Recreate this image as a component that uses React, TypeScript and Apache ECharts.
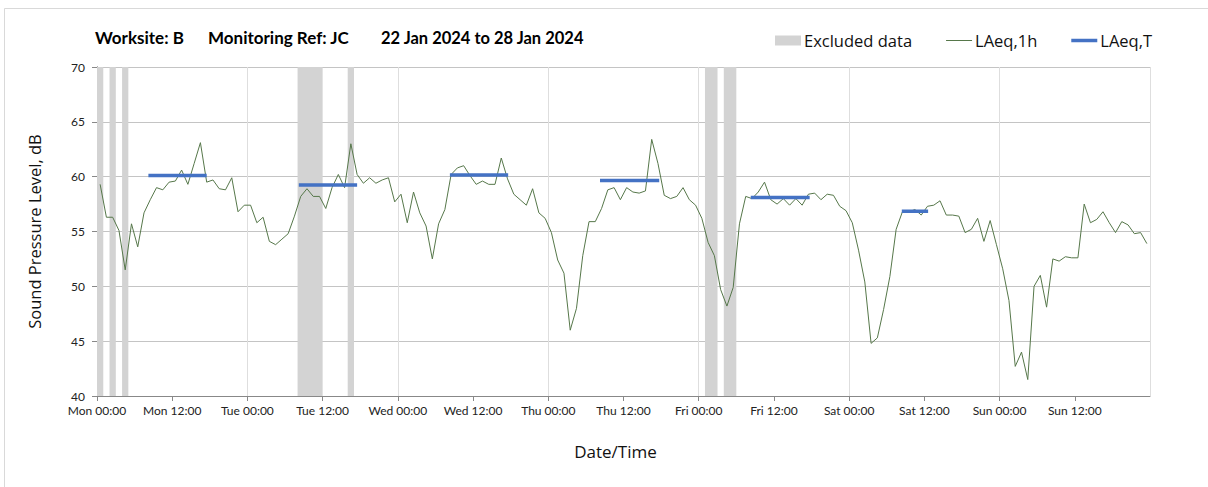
import React, { useEffect, useRef } from "react";
import * as echarts from "echarts";

const dayNames = ["Mon", "Tue", "Wed", "Thu", "Fri", "Sat", "Sun"];
const titleParts = ["Worksite: B", "Monitoring Ref: JC", "22 Jan 2024 to 28 Jan 2024"];

// hourly LAeq,1h values, Mon 00:00 .. Sun 23:00 (plotted at the middle of each hour)
const laeq1h = [
  59.3, 56.3, 56.3, 55.1, 51.5, 55.7, 53.6, 56.7, 57.9, 59.0, 58.8, 59.5,
  59.6, 60.6, 59.3, 61.2, 63.1, 59.5, 59.7, 58.9, 58.8, 59.9, 56.8, 57.4,
  57.4, 55.8, 56.3, 54.1, 53.8, 54.3, 54.8, 56.4, 58.2, 58.9, 58.2, 58.2,
  57.1, 59.0, 60.2, 59.0, 63.0, 60.2, 59.4, 59.9, 59.4, 59.7, 59.9, 57.7,
  58.4, 55.8, 58.6, 56.7, 55.5, 52.5, 55.7, 57.0, 60.2, 60.8, 61.0, 60.1,
  59.3, 59.6, 59.3, 59.3, 61.7, 59.8, 58.4, 57.9, 57.4, 58.9, 56.7, 56.2,
  54.9, 52.4, 51.2, 46.0, 48.0, 52.8, 55.9, 55.9, 57.1, 58.8, 59.0, 57.9,
  59.0, 58.6, 58.5, 58.7, 63.4, 61.2, 58.3, 58.0, 58.2, 59.0, 57.9, 57.4,
  56.2, 54.0, 52.8, 49.7, 48.2, 49.9, 55.7, 58.2, 58.0, 58.6, 59.5, 57.9,
  57.5, 58.0, 57.4, 58.0, 57.4, 58.4, 58.5, 57.9, 58.4, 58.3, 57.3, 56.9,
  55.8, 53.3, 50.4, 44.8, 45.3, 47.9, 50.9, 55.2, 56.8, 56.8, 57.0, 56.5,
  57.3, 57.4, 57.8, 56.5, 56.5, 56.4, 54.9, 55.2, 56.2, 54.1, 56.0, 53.8,
  51.6, 48.7, 42.7, 44.0, 41.5, 50.0, 51.0, 48.1, 52.5, 52.3, 52.7, 52.6,
  52.6, 57.5, 55.8, 56.1, 56.8, 55.8, 54.9, 55.9, 55.6, 54.8, 54.9, 53.9,
];

// LAeq,T periods (hours from Mon 00:00) and levels
const laeqTStart = [8.2, 32.2, 56.3, 80.25, 104.3, 128.4];
const laeqTEnd = [17.5, 41.5, 65.6, 89.7, 113.7, 132.6];
const laeqTLevel = [60.1, 59.25, 60.15, 59.65, 58.1, 56.85];

// excluded data periods (hours from Mon 00:00)
const excludedStart = [0, 2, 4, 32, 40, 97, 100];
const excludedEnd = [1, 3, 5, 36, 41, 99, 102];

const FONT = "Lato";
const UI_FONT = "Open Sans";

export default function App() {
  const ref = useRef<HTMLDivElement>(null);

  useEffect(() => {
    if (!ref.current) return;
    const chart = echarts.init(ref.current, undefined, { renderer: "svg" });

    const lineData = laeq1h.map((v, i) => [i + 0.5, v]);
    const tData: any[] = [];
    laeqTStart.forEach((s, k) => {
      tData.push([s, laeqTLevel[k]]);
      tData.push([laeqTEnd[k], laeqTLevel[k]]);
      if (k < laeqTStart.length - 1) tData.push([laeqTEnd[k] + 0.5, "-"]);
    });
    const areas = excludedStart.map((s, k) => [{ xAxis: s }, { xAxis: excludedEnd[k] }]);

    const titleX = [95, 208, 381];
    const titleSize = [17, 17, 16.5];

    chart.setOption({
      animation: false,
      textStyle: { fontFamily: FONT },
      title: titleParts.map((t, k) => ({
        text: t,
        left: titleX[k],
        top: 29,
        padding: 0,
        textStyle: { fontFamily: FONT, fontSize: titleSize[k], fontWeight: "bold", color: "#000" },
      })),
      legend: {
        left: 775,
        top: 32,
        padding: 0,
        itemWidth: 26,
        itemHeight: 10,
        itemGap: 34,
        textStyle: { fontFamily: UI_FONT, fontSize: 16.5, color: "#111", padding: [0, 0, 0, -2] },
        data: [
          { name: "Excluded data", icon: "rect", itemStyle: { color: "#d3d3d3" } },
          { name: "LAeq,1h", icon: "path://M0,0 H26 V1 H0 Z", itemStyle: { color: "#56774a" } },
          { name: "LAeq,T", icon: "path://M0,0 H26 V3.5 H0 Z", itemStyle: { color: "#4472c4" } },
        ],
      },
      graphic: [
        {
          type: "rect",
          shape: { x: 4.5, y: 8.5, width: 1240, height: 520 },
          style: { fill: "none", stroke: "#d9d9d9", lineWidth: 1 },
          silent: true,
        },
      ],
      grid: { left: 97, right: 58, top: 67, bottom: 91 },
      xAxis: [
        {
          type: "value",
          min: 0,
          max: 168,
          interval: 12,
          name: "Date/Time",
          nameLocation: "middle",
          nameGap: 47,
          nameTextStyle: { fontFamily: UI_FONT, fontSize: 17, color: "#111", padding: [0, 16, 0, 0] },
          axisLine: { show: true, lineStyle: { color: "#888" } },
          axisTick: { show: true, length: 5, lineStyle: { color: "#888" } },
          axisLabel: {
            fontFamily: FONT,
            fontSize: 12,
            color: "#222",
            margin: 8,
            showMaxLabel: false,
            formatter: (v: number) => {
              if (v >= 168) return "";
              const d = dayNames[Math.floor(v / 24)];
              return d + " " + (v % 24 === 0 ? "00:00" : "12:00");
            },
          },
          splitLine: { show: false },
        },
        {
          type: "value",
          min: 0,
          max: 168,
          interval: 24,
          position: "bottom",
          axisLine: { show: false },
          axisTick: { show: false },
          axisLabel: { show: false },
          splitLine: { show: true, lineStyle: { color: "#dedede", width: 1 } },
        },
      ],
      yAxis: [
        {
          type: "value",
          min: 40,
          max: 70,
          interval: 5,
          name: "Sound Pressure Level, dB",
          nameLocation: "middle",
          nameGap: 54,
          nameTextStyle: { fontFamily: UI_FONT, fontSize: 16.5, color: "#111" },
          axisLine: { show: true, lineStyle: { color: "#888" } },
          axisTick: { show: true, length: 5, lineStyle: { color: "#888" } },
          axisLabel: { fontFamily: FONT, fontSize: 12, color: "#222", margin: 12 },
          splitLine: { show: true, lineStyle: { color: "#c4c4c4" } },
        },
        {
          type: "value",
          min: 40,
          max: 70,
          position: "right",
          axisLine: { show: true, lineStyle: { color: "#888" } },
          axisTick: { show: false },
          axisLabel: { show: false },
          splitLine: { show: false },
        },
      ],
      series: [
        {
          name: "Excluded data",
          type: "line",
          data: [],
          itemStyle: { color: "#d3d3d3" },
          z: 1,
          markArea: {
            silent: true,
            itemStyle: { color: "#d3d3d3", opacity: 1 },
            data: areas,
          },
        },
        {
          name: "LAeq,1h",
          type: "line",
          data: lineData,
          symbol: "none",
          z: 3,
          itemStyle: { color: "#56774a" },
          lineStyle: { color: "#56774a", width: 1 },
        },
        {
          name: "LAeq,T",
          type: "line",
          data: tData,
          symbol: "none",
          connectNulls: false,
          z: 4,
          itemStyle: { color: "#4472c4" },
          lineStyle: { color: "#4472c4", width: 3.5 },
        },
      ],
    });

    return () => chart.dispose();
  }, []);

  return (
    <div
      ref={ref}
      style={{ position: "fixed", left: 0, top: 0, width: 1208, height: 487, background: "#fff" }}
    />
  );
}
